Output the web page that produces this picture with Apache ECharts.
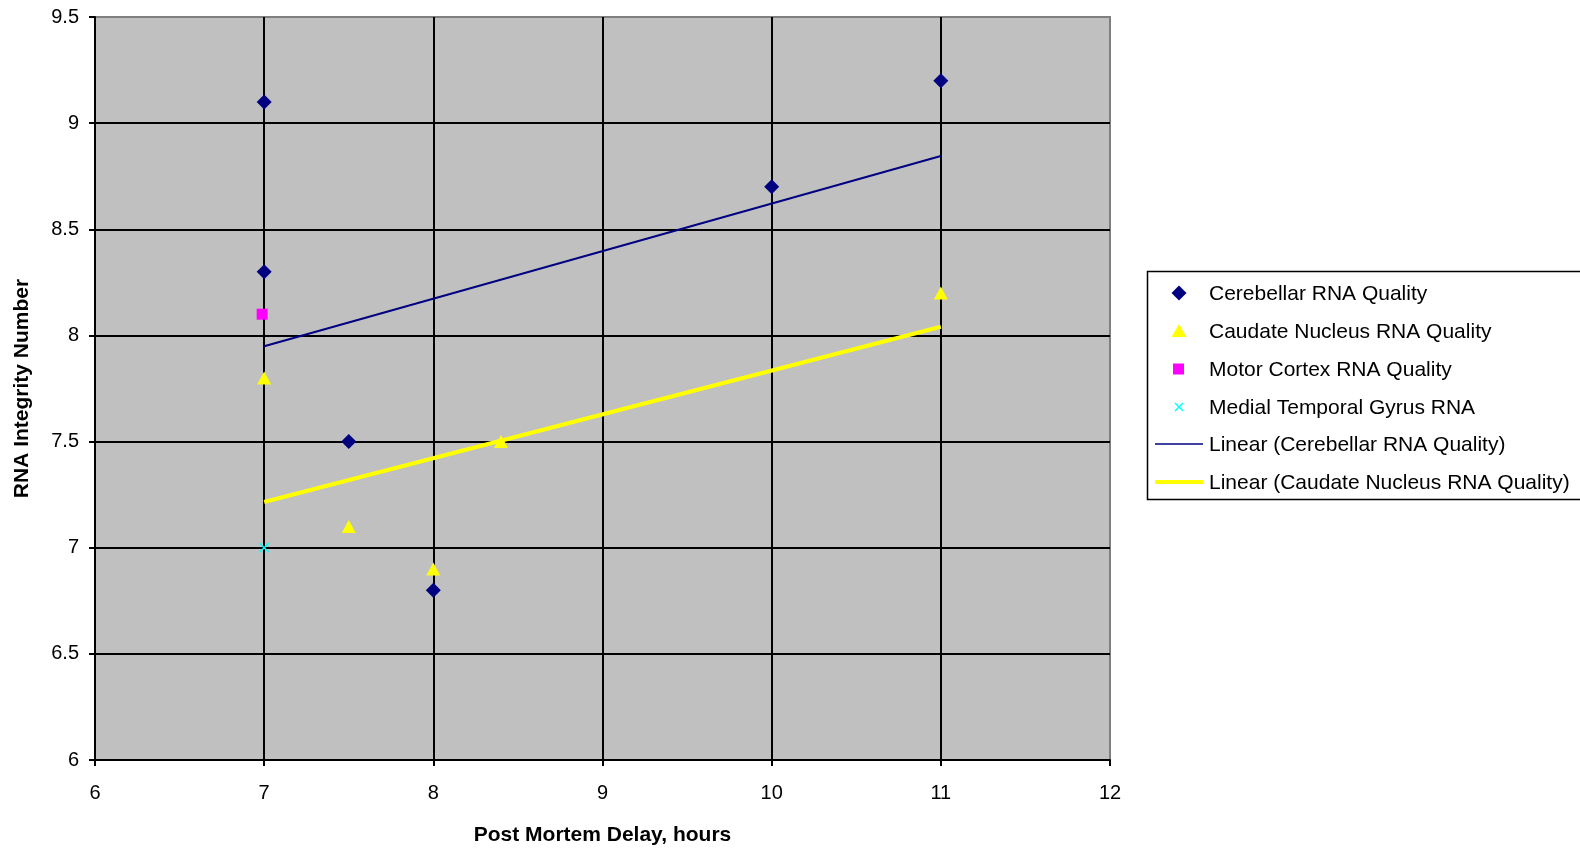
<!DOCTYPE html>
<html>
<head>
<meta charset="utf-8">
<style>
  html, body { margin: 0; padding: 0; background: #ffffff; }
  #chart { width: 1580px; height: 849px; }
</style>
<script src="https://cdn.jsdelivr.net/npm/echarts@6/dist/echarts.min.js"></script>
</head>
<body>
<div id="chart"></div>
<script>
// Post mortem delay (hours) vs RNA integrity number, by brain region
const cerebellarX = [7, 7, 7.5, 8, 10, 11];
const cerebellarY = [9.1, 8.3, 7.5, 6.8, 8.7, 9.2];
const caudateX = [7, 7.5, 8, 8.4, 11];
const caudateY = [7.8, 7.1, 6.9, 7.5, 8.2];
const motorX = [7];
const motorY = [8.1];
const medialX = [7];
const medialY = [7.0];

const seriesNames = [
  'Cerebellar RNA Quality',
  'Caudate Nucleus RNA Quality',
  'Motor Cortex RNA Quality',
  'Medial Temporal Gyrus RNA',
  'Linear (Cerebellar RNA Quality)',
  'Linear (Caudate Nucleus RNA Quality)'
];

function pairs(xs, ys) { return xs.map((x, i) => [x, ys[i]]); }

// Least-squares trend line spanning the x range of the data
function linearTrend(xs, ys) {
  const n = xs.length;
  const mx = xs.reduce((a, b) => a + b, 0) / n;
  const my = ys.reduce((a, b) => a + b, 0) / n;
  let sxx = 0, sxy = 0;
  for (let i = 0; i < n; i++) {
    sxx += (xs[i] - mx) * (xs[i] - mx);
    sxy += (xs[i] - mx) * (ys[i] - my);
  }
  const slope = sxy / sxx;
  const x0 = Math.min(...xs), x1 = Math.max(...xs);
  return [[x0, my + slope * (x0 - mx)], [x1, my + slope * (x1 - mx)]];
}

const FONT = '"Liberation Sans", Arial, sans-serif';
const NAVY = '#000080', YELLOW = '#FFFF00', MAGENTA = '#FF00FF', CYAN = '#00FFFF';

// Legend box drawn as graphics: key glyph + label per row
const LEG_LEFT = 1147, LEG_TOP = 271, LEG_BOTTOM = 499;
const KEY_CX = 1179, TEXT_X = 1209;
const rowY = [293, 331, 369, 407, 444, 482];

function legendText(i) {
  return {
    type: 'text', left: TEXT_X, top: rowY[i] - 11,
    style: { text: seriesNames[i], fontFamily: FONT, fontSize: 21, fill: '#000', lineHeight: 24 }
  };
}

const legendGraphics = [
  { type: 'rect', shape: { x: LEG_LEFT + 0.5, y: LEG_TOP + 0.5, width: 1580, height: LEG_BOTTOM - LEG_TOP },
    style: { fill: '#fff', stroke: '#000', lineWidth: 1.5 }, z: 10 },
  { type: 'polygon', shape: { points: [[KEY_CX, rowY[0] - 7.5], [KEY_CX + 7.5, rowY[0]], [KEY_CX, rowY[0] + 7.5], [KEY_CX - 7.5, rowY[0]]] },
    style: { fill: NAVY }, z: 11 },
  { type: 'polygon', shape: { points: [[KEY_CX, rowY[1] - 7], [KEY_CX + 7.5, rowY[1] + 6], [KEY_CX - 7.5, rowY[1] + 6]] },
    style: { fill: YELLOW }, z: 11 },
  { type: 'rect', shape: { x: KEY_CX - 6, y: rowY[2] - 5.5, width: 11, height: 11 },
    style: { fill: MAGENTA }, z: 11 },
  { type: 'line', shape: { x1: KEY_CX - 4, y1: rowY[3] - 4, x2: KEY_CX + 4, y2: rowY[3] + 4 },
    style: { stroke: CYAN, lineWidth: 1.5 }, z: 11 },
  { type: 'line', shape: { x1: KEY_CX + 4, y1: rowY[3] - 4, x2: KEY_CX - 4, y2: rowY[3] + 4 },
    style: { stroke: CYAN, lineWidth: 1.5 }, z: 11 },
  { type: 'line', shape: { x1: 1155, y1: rowY[4], x2: 1203, y2: rowY[4] },
    style: { stroke: NAVY, lineWidth: 1.5 }, z: 11 },
  { type: 'line', shape: { x1: 1155, y1: rowY[5], x2: 1203, y2: rowY[5] },
    style: { stroke: YELLOW, lineWidth: 4 }, z: 11 }
].concat(seriesNames.map((_, i) => Object.assign(legendText(i), { z: 11 })));

const chart = echarts.init(document.getElementById('chart'), null, { renderer: 'canvas' });

chart.setOption({
  animation: false,
  backgroundColor: '#ffffff',
  textStyle: { fontFamily: FONT },
  grid: {
    left: 95, right: 470, top: 17, bottom: 89,
    outerBoundsMode: 'none',
    show: true,
    backgroundColor: '#C0C0C0',
    borderColor: '#808080',
    borderWidth: 2
  },
  xAxis: {
    type: 'value',
    min: 6, max: 12, interval: 1,
    name: 'Post Mortem Delay, hours',
    nameLocation: 'middle',
    nameGap: 65,
    nameTextStyle: { fontFamily: FONT, fontSize: 21, fontWeight: 'bold', color: '#000' },
    axisLine: { show: true, onZero: false, lineStyle: { color: '#000', width: 2 } },
    axisTick: { show: true, inside: false, length: 6, lineStyle: { color: '#000', width: 2 } },
    axisLabel: { margin: 23, fontSize: 20, color: '#000', fontFamily: FONT },
    splitLine: { show: true, showMaxLine: false, lineStyle: { color: '#000', width: 2 } }
  },
  yAxis: {
    type: 'value',
    min: 6, max: 9.5, interval: 0.5,
    name: 'RNA Integrity Number',
    nameLocation: 'middle',
    nameGap: 62,
    nameTextStyle: { fontFamily: FONT, fontSize: 21, fontWeight: 'bold', color: '#000' },
    axisLine: { show: true, onZero: false, lineStyle: { color: '#000', width: 2 } },
    axisTick: { show: true, inside: false, length: 6, lineStyle: { color: '#000', width: 2 } },
    axisLabel: { margin: 16, fontSize: 20, color: '#000', fontFamily: FONT },
    splitLine: { show: true, showMaxLine: false, lineStyle: { color: '#000', width: 2 } }
  },
  graphic: legendGraphics,
  series: [
    {
      name: seriesNames[4],
      type: 'line',
      data: linearTrend(cerebellarX, cerebellarY),
      symbol: 'none',
      lineStyle: { color: NAVY, width: 2 },
      itemStyle: { color: NAVY },
      z: 3
    },
    {
      name: seriesNames[5],
      type: 'line',
      data: linearTrend(caudateX, caudateY),
      symbol: 'none',
      lineStyle: { color: YELLOW, width: 4 },
      itemStyle: { color: YELLOW },
      z: 3
    },
    {
      name: seriesNames[0],
      type: 'scatter',
      data: pairs(cerebellarX, cerebellarY),
      symbol: 'diamond',
      symbolSize: [15, 15],
      itemStyle: { color: NAVY, opacity: 1 },
      z: 4
    },
    {
      name: seriesNames[1],
      type: 'scatter',
      data: pairs(caudateX, caudateY),
      symbol: 'triangle',
      symbolSize: [14, 13],
      itemStyle: { color: YELLOW, opacity: 1 },
      z: 4
    },
    {
      name: seriesNames[2],
      type: 'scatter',
      data: pairs(motorX, motorY),
      symbol: 'rect',
      symbolSize: 11,
      symbolOffset: [-2, 0],
      itemStyle: { color: MAGENTA, opacity: 1 },
      z: 4
    },
    {
      name: seriesNames[3],
      type: 'scatter',
      data: pairs(medialX, medialY),
      symbol: 'path://M0,0L10,10M10,0L0,10',
      symbolSize: 9,
      itemStyle: { color: 'none', borderColor: CYAN, borderWidth: 1.5, opacity: 1 },
      z: 4
    }
  ]
});
</script>
</body>
</html>
